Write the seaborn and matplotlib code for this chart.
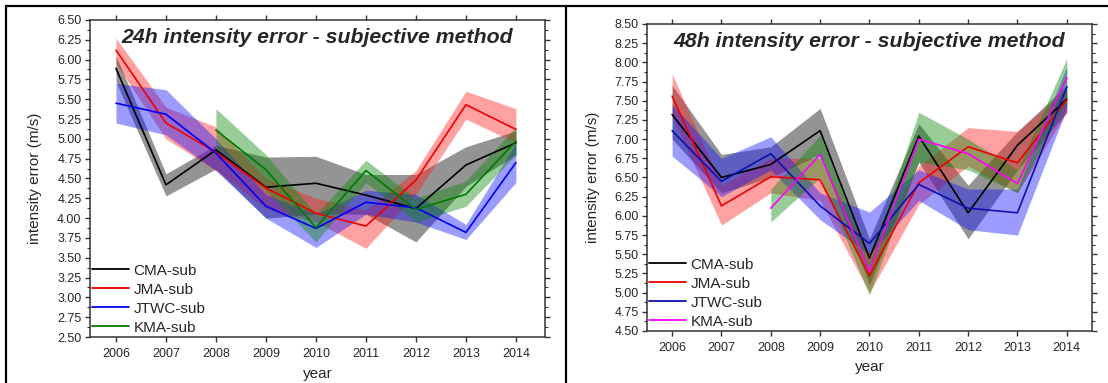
import numpy as np
import pandas as pd
import matplotlib
matplotlib.use("Agg")
import matplotlib.pyplot as plt
import seaborn as sns
from matplotlib.ticker import MultipleLocator, FormatStrFormatter
from matplotlib.lines import Line2D

years = [2006, 2007, 2008, 2009, 2010, 2011, 2012, 2013, 2014]
kma_years = [2008, 2009, 2010, 2011, 2012, 2013, 2014]

# 24h intensity error (m/s)
cma24 = [5.89, 4.42, 4.86, 4.39, 4.44, 4.29, 4.12, 4.67, 4.95]
cma24_lo = [5.72, 4.28, 4.62, 4.00, 4.05, 4.05, 3.70, 4.40, 4.80]
cma24_hi = [6.05, 4.56, 4.92, 4.77, 4.78, 4.55, 4.55, 4.90, 5.10]
jma24 = [6.12, 5.20, 4.83, 4.38, 4.06, 3.90, 4.48, 5.43, 5.12]
jma24_lo = [5.95, 5.00, 4.60, 4.12, 3.95, 3.62, 4.30, 5.25, 4.95]
jma24_hi = [6.27, 5.40, 5.15, 4.50, 4.25, 4.10, 4.60, 5.60, 5.38]
jtwc24 = [5.45, 5.31, 4.82, 4.15, 3.87, 4.20, 4.13, 3.82, 4.70]
jtwc24_lo = [5.20, 5.05, 4.60, 4.00, 3.63, 4.05, 3.95, 3.73, 4.45]
jtwc24_hi = [5.70, 5.62, 5.00, 4.30, 4.05, 4.35, 4.30, 3.92, 4.95]
kma24 = [5.11, 4.61, 3.88, 4.60, 4.11, 4.30, 4.97]
kma24_lo = [4.85, 4.35, 3.70, 4.45, 3.95, 4.15, 4.80]
kma24_hi = [5.38, 4.80, 4.05, 4.73, 4.25, 4.47, 5.15]

# 48h intensity error (m/s)
cma48 = [7.32, 6.50, 6.67, 7.11, 5.45, 7.04, 6.04, 6.92, 7.52]
cma48_lo = [7.00, 6.30, 6.50, 6.80, 5.10, 6.70, 5.70, 6.60, 7.35]
cma48_hi = [7.70, 6.80, 6.90, 7.40, 5.70, 7.20, 6.40, 7.10, 7.70]
jma48 = [7.56, 6.13, 6.51, 6.47, 5.22, 6.43, 6.90, 6.69, 7.51]
jma48_lo = [7.30, 5.88, 6.30, 6.20, 5.00, 6.15, 6.65, 6.30, 7.35]
jma48_hi = [7.85, 6.40, 6.75, 6.75, 5.50, 6.65, 7.15, 7.10, 7.65]
jtwc48 = [7.11, 6.45, 6.81, 6.13, 5.64, 6.41, 6.10, 6.04, 7.68]
jtwc48_lo = [6.78, 6.25, 6.60, 5.95, 5.50, 6.20, 5.82, 5.75, 7.40]
jtwc48_hi = [7.45, 6.75, 7.03, 6.30, 6.05, 6.60, 6.35, 6.35, 7.95]
kma48 = [6.10, 6.80, 5.28, 7.00, 6.81, 6.42, 7.80]
kma48_lo = [5.92, 6.50, 4.97, 6.70, 6.60, 6.30, 7.50]
kma48_hi = [6.35, 7.05, 5.40, 7.35, 7.00, 6.60, 8.05]

labels = ["CMA-sub", "JMA-sub", "JTWC-sub", "KMA-sub"]


def build(series):
    rows = []
    for name, xs, m, lo, hi in series:
        for x, a, b, c in zip(xs, m, lo, hi):
            rows.append({"year": x, "agency": name, "value": a, "lo": b, "hi": c})
    return pd.DataFrame(rows)


df24 = build([
    ("CMA-sub", years, cma24, cma24_lo, cma24_hi),
    ("JMA-sub", years, jma24, jma24_lo, jma24_hi),
    ("JTWC-sub", years, jtwc24, jtwc24_lo, jtwc24_hi),
    ("KMA-sub", kma_years, kma24, kma24_lo, kma24_hi),
])
df48 = build([
    ("CMA-sub", years, cma48, cma48_lo, cma48_hi),
    ("JMA-sub", years, jma48, jma48_lo, jma48_hi),
    ("JTWC-sub", years, jtwc48, jtwc48_lo, jtwc48_hi),
    ("KMA-sub", kma_years, kma48, kma48_lo, kma48_hi),
])

sns.set_theme(style="ticks")
plt.rcParams["font.family"] = ["Liberation Sans", "DejaVu Sans"]

fig = plt.figure(figsize=(11.08, 3.83), dpi=100)
ax1 = fig.add_axes([0.0812, 0.120, 0.4106, 0.828])
ax2 = fig.add_axes([0.5839, 0.1358, 0.4016, 0.8016])

line_cols1 = {"CMA-sub": "#000000", "JMA-sub": "#ee0000", "JTWC-sub": "#0000f0", "KMA-sub": "#007a00"}
band_cols1 = {"CMA-sub": "#000000", "JMA-sub": "#ff2020", "JTWC-sub": "#1515ff", "KMA-sub": "#0a8a0a"}
line_cols2 = {"CMA-sub": "#000000", "JMA-sub": "#ee0000", "JTWC-sub": "#1010b0", "KMA-sub": "#ff00ff"}
band_cols2 = {"CMA-sub": "#000000", "JMA-sub": "#ff2020", "JTWC-sub": "#1515ff", "KMA-sub": "#0a8a0a"}


def panel(ax, df, lcols, bcols, xlim, ylim, title, ylpad):
    for name in labels:
        d = df[df["agency"] == name]
        ax.fill_between(d["year"], d["lo"], d["hi"], color=bcols[name], alpha=0.42, lw=0)
    sns.lineplot(data=df, x="year", y="value", hue="agency", hue_order=labels,
                 palette=lcols, ax=ax, lw=1.2, legend=False)
    ax.set_xlim(*xlim)
    ax.set_ylim(*ylim)
    ax.set_xticks(years)
    ax.set_xticklabels([str(y) for y in years])
    ax.yaxis.set_major_locator(MultipleLocator(0.25))
    ax.yaxis.set_minor_locator(MultipleLocator(0.125))
    ax.yaxis.set_major_formatter(FormatStrFormatter("%.2f"))
    ax.tick_params(axis="both", which="major", direction="out", length=3.6, width=1,
                   labelsize=9, top=True, right=True, color="#333333")
    ax.tick_params(axis="y", which="minor", direction="out", length=2.2, width=0.8,
                   right=True, left=True, color="#333333")
    ax.tick_params(axis="x", which="major", pad=4)
    ax.tick_params(axis="y", which="major", pad=2.5)
    for s in ax.spines.values():
        s.set_visible(True)
        s.set_linewidth(1.1)
        s.set_color("#333333")
    ax.set_xlabel("year", fontsize=11, labelpad=5)
    ax.set_ylabel("intensity error (m/s)", fontsize=11, labelpad=ylpad)
    ax.text(0.50, 0.975, title, transform=ax.transAxes, ha="center", va="top",
            fontsize=15.3, fontweight="bold", fontstyle="italic")
    handles = [Line2D([0], [0], color=lcols[n], lw=1.3) for n in labels]
    ax.legend(handles, labels, loc="lower left", frameon=False, fontsize=11,
              handlelength=2.4, handletextpad=0.3, labelspacing=0.33,
              borderaxespad=0.15, borderpad=0.0, bbox_to_anchor=(0.0, 0.0))


panel(ax1, df24, line_cols1, band_cols1, (2005.48, 2014.58), (2.5, 6.5),
      "24h intensity error - subjective method", 11)
panel(ax2, df48, line_cols2, band_cols2, (2005.49, 2014.51), (4.5, 8.5),
      "48h intensity error - subjective method", 10)

# panel frames
fig.add_artist(Line2D([0.0054, 0.0054], [0, 0.984], color="black", lw=1.6, transform=fig.transFigure))
fig.add_artist(Line2D([0.0054, 1.0], [0.984, 0.984], color="black", lw=1.6, transform=fig.transFigure))
fig.add_artist(Line2D([0.5108, 0.5108], [0, 0.984], color="black", lw=1.6, transform=fig.transFigure))

fig.savefig("out.png", dpi=100)
